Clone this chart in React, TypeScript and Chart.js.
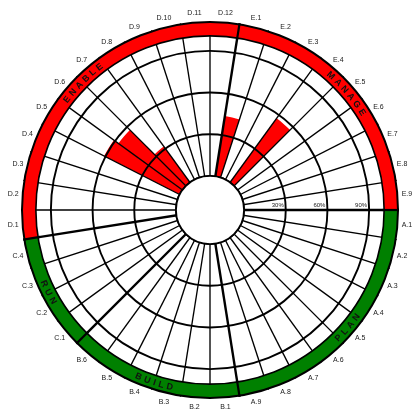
import React, { useEffect, useRef } from 'react';
import { Chart, registerables } from 'chart.js';

Chart.register(...registerables);

// ---- data ----
const segmentLabels = [
  'A.1', 'A.2', 'A.3', 'A.4', 'A.5', 'A.6', 'A.7', 'A.8', 'A.9',
  'B.1', 'B.2', 'B.3', 'B.4', 'B.5', 'B.6',
  'C.1', 'C.2', 'C.3', 'C.4',
  'D.1', 'D.2', 'D.3', 'D.4', 'D.5', 'D.6', 'D.7', 'D.8', 'D.9', 'D.10', 'D.11', 'D.12',
  'E.1', 'E.2', 'E.3', 'E.4', 'E.5', 'E.6', 'E.7', 'E.8', 'E.9',
];
const aValues = [0, 0, 0, 0, 0, 0, 0, 0, 0];
const bValues = [0, 0, 0, 0, 0, 0];
const cValues = [0, 0, 0, 0];
const dValues = [0, 0, 0, 0, 61, 57, 32, 0, 0, 0, 0, 0];
const eValues = [44, 0, 0, 57, 0, 0, 0, 0, 0];
const segmentValues = [...aValues, ...bValues, ...cValues, ...dValues, ...eValues];

const sectionNames = ['PLAN', 'BUILD', 'RUN', 'ENABLE', 'MANAGE'];
const sectionSizes = [9, 6, 4, 12, 9];
const sectionColors = ['#008000', '#008000', '#008000', '#ff0000', '#ff0000'];

const gridTicks = [0, 30, 60, 90];
const percentLabels = ['30%', '60%', '90%'];
const percentValues = [30, 60, 90];

const scaleMin = -24.5;
const scaleMax = 111.5;
const ringInnerValue = 100.8;
const barColor = '#ff0000';

// indices where a section starts (thick spokes)
const sectionStarts: number[] = [];
{
  let acc = 0;
  for (const n of sectionSizes) {
    sectionStarts.push(acc);
    acc += n;
  }
}

const decorPlugin = {
  id: 'decor',
  afterDraw(chart: any) {
    const s = chart.scales.r;
    const ctx: CanvasRenderingContext2D = chart.ctx;
    const cx = s.xCenter;
    const cy = s.yCenter;
    const rad = (v: number) => s.getDistanceFromCenterForValue(v);
    const ang = (i: number) => s.getIndexAngle(i % segmentLabels.length) - Math.PI / 2;
    const step = (2 * Math.PI) / segmentLabels.length;
    ctx.save();

    // hole
    ctx.beginPath();
    ctx.arc(cx, cy, rad(0), 0, Math.PI * 2);
    ctx.fillStyle = '#ffffff';
    ctx.fill();
    ctx.lineWidth = 1.8;
    ctx.strokeStyle = '#000';
    ctx.stroke();

    // ring
    const rIn = rad(ringInnerValue);
    const rOut = rad(scaleMax) - 1;
    sectionSizes.forEach((n, k) => {
      const a0 = ang(sectionStarts[k]);
      const a1 = a0 + n * step;
      ctx.beginPath();
      ctx.arc(cx, cy, rOut, a0, a1);
      ctx.arc(cx, cy, rIn, a1, a0, true);
      ctx.closePath();
      ctx.fillStyle = sectionColors[k];
      ctx.fill();
    });
    ctx.strokeStyle = '#000';
    ctx.lineWidth = 2;
    ctx.beginPath();
    ctx.arc(cx, cy, rOut, 0, Math.PI * 2);
    ctx.stroke();
    ctx.lineWidth = 1.6;
    ctx.beginPath();
    ctx.arc(cx, cy, rIn, 0, Math.PI * 2);
    ctx.stroke();
    ctx.lineWidth = 2.2;
    sectionStarts.forEach((idx) => {
      const a = ang(idx);
      ctx.beginPath();
      ctx.moveTo(cx + (rIn - 2) * Math.cos(a), cy + (rIn - 2) * Math.sin(a));
      ctx.lineTo(cx + (rOut + 1) * Math.cos(a), cy + (rOut + 1) * Math.sin(a));
      ctx.stroke();
    });

    // section names along ring
    const rText = (rIn + rOut) / 2;
    ctx.font = 'bold 9px Arial, "Liberation Sans", sans-serif';
    ctx.fillStyle = '#111';
    ctx.textAlign = 'center';
    ctx.textBaseline = 'middle';
    const spacing = 3;
    sectionNames.forEach((name, k) => {
      const mid = ang(sectionStarts[k]) + (sectionSizes[k] * step) / 2;
      const chars = name.split('');
      const widths = chars.map((c) => ctx.measureText(c).width);
      const total = widths.reduce((a, b) => a + b, 0) + spacing * (chars.length - 1);
      const span = total / rText;
      let midNorm = mid % (Math.PI * 2);
      if (midNorm < 0) midNorm += Math.PI * 2;
      const topHalf = midNorm > Math.PI;
      let off = 0;
      chars.forEach((c, j) => {
        const centerOff = off + widths[j] / 2;
        const a = topHalf ? mid - span / 2 + centerOff / rText : mid + span / 2 - centerOff / rText;
        ctx.save();
        ctx.translate(cx + rText * Math.cos(a), cy + rText * Math.sin(a));
        ctx.rotate(topHalf ? a + Math.PI / 2 : a - Math.PI / 2);
        ctx.fillText(c, 0, 0.5);
        ctx.restore();
        off += widths[j] + spacing;
      });
    });

    // outer segment labels
    ctx.font = '7px Arial, "Liberation Sans", sans-serif';
    ctx.fillStyle = '#1a1a1a';
    const rLab = rad(scaleMax) + 8.5;
    segmentLabels.forEach((lab, i) => {
      const a = ang(i) + step / 2;
      ctx.fillText(lab, cx + rLab * Math.cos(a), cy + rLab * Math.sin(a));
    });

    // percentage labels
    ctx.font = '6px Arial, "Liberation Sans", sans-serif';
    ctx.textAlign = 'right';
    ctx.textBaseline = 'bottom';
    percentValues.forEach((v, k) => {
      ctx.fillText(percentLabels[k], cx + rad(v) - 2, cy - 1.5);
    });

    ctx.restore();
  },
};

export default function App() {
  const ref = useRef<HTMLCanvasElement | null>(null);
  useEffect(() => {
    if (!ref.current) return;
    const chart = new Chart(ref.current, {
      type: 'polarArea',
      data: {
        labels: segmentLabels,
        datasets: [
          {
            data: segmentValues,
            backgroundColor: segmentValues.map((v) => (v > 0 ? barColor : 'rgba(0,0,0,0)')),
            borderWidth: 0,
          },
        ],
      },
      options: {
        responsive: false,
        animation: false,
        devicePixelRatio: 1,
        layout: { padding: 21 },
        plugins: {
          legend: { display: false },
          tooltip: { enabled: false },
        },
        scales: {
          r: {
            type: 'radialLinear',
            min: scaleMin,
            max: scaleMax,
            startAngle: 90,
            ticks: { display: false },
            pointLabels: { display: false },
            grid: { circular: true, color: '#000', lineWidth: 1.9, z: 1 },
            angleLines: {
              display: true,
              color: '#000',
              lineWidth: (c: any) => (sectionStarts.includes(c.index) ? 2.4 : 1.35),
            },
            afterBuildTicks: (scale: any) => {
              scale.ticks = gridTicks.map((v) => ({ value: v }));
            },
          },
        },
      },
      plugins: [decorPlugin],
    } as any);
    return () => chart.destroy();
  }, []);
  return (
    <div style={{ position: 'absolute', left: 0, top: 0, width: 420, height: 420, background: '#fff' }}>
      <canvas ref={ref} width={420} height={420} style={{ display: 'block' }} />
    </div>
  );
}
